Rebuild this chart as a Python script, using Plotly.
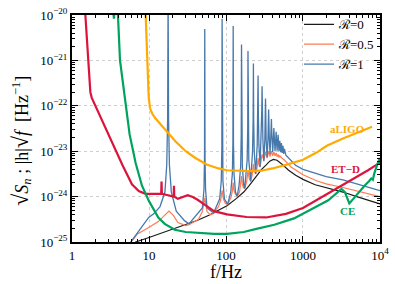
import plotly.graph_objects as go

# ---------------- data (frequencies in Hz, values as log10 of the plotted quantity) -------------
R0_f = [6.0, 6.7, 10, 20, 30, 42.8, 60, 76, 103, 137, 170, 200, 248, 290, 333, 370, 412, 460,
        545, 650, 803, 1000, 1440, 2000, 3300, 5000, 7000, 10000]
R0_e = [-25.08, -25.0, -24.9, -24.72, -24.61, -24.52, -24.41, -24.32, -24.2, -24.04, -23.9, -23.76,
        -23.55, -23.4, -23.3, -23.22, -23.18, -23.2, -23.3, -23.42, -23.53, -23.62, -23.74, -23.8,
        -23.9, -24.0, -24.08, -24.16]

R05_f = [5.0, 7.0, 9.9, 13.2, 15.8, 18.2, 20.8, 23.7, 30, 33,
         44, 49.3, 53, 56.7, 62, 69,
         80, 85.5, 89, 92.5, 98, 105,
         116, 121, 124, 127, 133, 140,
         150, 155, 159, 163, 168, 175,
         186, 193, 200, 209,
         220, 227, 234, 243,
         255, 261, 268, 277,
         294, 310, 326, 342, 358, 373, 389, 404, 419, 433, 448, 461, 475, 487, 500, 530, 570,
         700, 1000, 1500, 2000, 3300, 5000, 7000, 10000]
R05_e = [-25.15, -24.83, -24.68, -24.55, -24.42, -24.32, -24.42, -24.57, -24.64, -24.62,
         -24.5, -24.33, -24.03, -24.33, -24.4, -24.37,
         -24.22, -24.07, -23.86, -24.05, -24.15, -24.18,
         -24.02, -23.88, -23.69, -23.86, -23.95, -23.99,
         -23.9, -23.75, -23.55, -23.72, -23.8, -23.83,
         -23.66, -23.42, -23.6, -23.67,
         -23.5, -23.28, -23.45, -23.5,
         -23.33, -23.15, -23.3, -23.35,
         -23.07, -23.2, -23.02, -23.15, -23.0, -23.12, -23.0, -23.1, -23.02, -23.1, -23.04, -23.12,
         -23.07, -23.14, -23.1, -23.15, -23.19,
         -23.35, -23.52, -23.65, -23.72, -23.8, -23.88, -23.94, -24.0]

R1_f = [5.0, 7.0, 9.9, 11.5, 13.9, 16.1, 17.0, 17.45, 17.7, 17.95, 18.4, 19.5, 22.6, 28.9, 33,
        49.3, 51.7, 52.6, 53, 53.4, 54.3, 56.7, 69,
        82.8, 86.8, 88.3, 89, 89.7, 91.2, 95.2, 105,
        115.3, 120.9, 123, 124, 125, 127.1, 132.7, 140,
        148, 155, 157.7, 159, 160.3, 163, 170, 175,
        188.2, 191.5, 193, 194.5, 197.8, 209,
        221.3, 225.2, 227, 228.8, 232.7, 243,
        254.5, 258.9, 261, 263.1, 267.5, 277,
        286.7, 291.6, 294, 296.4, 301.4, 310,
        319.5, 323.4, 326, 328.6, 332.5, 342,
        351, 355.1, 358, 360.9, 365, 373,
        381, 386, 389, 392, 397, 404,
        412, 416, 419, 422, 426, 433,
        442, 448, 454, 461,
        469, 475, 481, 487,
        495, 500, 505, 512, 525, 537, 550, 562, 574,
        600, 700, 800, 1000, 1500, 2000, 3300, 5000, 7000, 10000]
R1_e = [-25.15, -24.81, -24.46, -24.38, -24.22, -23.9, -23.3, -22.3, -19.5, -22.3, -23.3, -23.9, -24.32, -24.53, -24.6,
        -24.25, -23.85, -23.15, -20.31, -23.15, -23.85, -24.25, -24.36,
        -24.05, -23.65, -22.95, -20.08, -22.95, -23.65, -24.05, -24.17,
        -23.9, -23.5, -22.8, -20.24, -22.8, -23.5, -23.9, -23.99,
        -23.74, -23.34, -22.64, -20.65, -22.64, -23.34, -23.74, -23.82,
        -23.2, -22.5, -20.79, -22.5, -23.2, -23.66,
        -23.0, -22.3, -21.07, -22.3, -23.0, -23.5,
        -22.85, -22.15, -21.33, -22.15, -22.85, -23.35,
        -22.75, -22.1, -21.57, -22.1, -22.75, -23.22,
        -22.75, -22.2, -21.84, -22.2, -22.75, -23.13,
        -22.72, -22.35, -22.08, -22.35, -22.72, -23.06,
        -22.72, -22.5, -22.29, -22.5, -22.72, -23.02,
        -22.75, -22.62, -22.49, -22.62, -22.75, -23.0,
        -22.78, -22.57, -22.78, -22.99,
        -22.8, -22.64, -22.8, -23.0,
        -22.87, -22.77, -22.87, -23.02, -22.82, -23.04, -22.88, -23.06, -22.95,
        -23.09, -23.22, -23.31, -23.40, -23.5, -23.56, -23.63, -23.72, -23.8, -23.87]

LIGO_f = [9.05, 9.5, 9.9, 10.3, 11, 12, 14.4, 17.7, 22, 30, 40, 57, 80, 103, 150, 200, 288, 400,
          600, 1000, 1500, 2040, 3300, 5000, 6600, 7900]
LIGO_e = [-20.0, -21.0, -21.8, -22.05, -22.17, -22.27, -22.42, -22.6, -22.78, -23.0, -23.15, -23.3,
          -23.38, -23.42, -23.44, -23.44, -23.43, -23.38, -23.3, -23.19, -23.03, -22.88, -22.72,
          -22.6, -22.52, -22.46]

ET_f = [1.49, 1.62, 1.73, 1.8, 2.27, 2.8, 3.4, 4.5, 6.0, 7.35, 9.0, 11, 14.4, 14.55, 14.7, 17.7,
        20.9, 21.1, 21.3, 23.7, 27, 31.8, 37, 42.8, 55, 69.9, 103, 185, 332, 600, 1000, 2100,
        3500, 5000, 7000, 10000]
ET_e = [-20.0, -21.0, -21.7, -21.82, -22.2, -22.55, -22.88, -23.3, -23.73, -23.88, -23.94, -23.94,
        -23.94, -23.67, -23.94, -23.97, -24.0, -23.76, -24.0, -24.05, -24.02, -23.97, -24.01,
        -24.07, -24.2, -24.32, -24.39, -24.45, -24.46, -24.38, -24.25, -23.93, -23.72, -23.57,
        -23.42, -23.25]

CE_f = [3.38, 3.5, 3.62, 3.95, 4.2, 5.0, 5.6, 6.7, 8.1, 10, 13.2, 16, 21.6, 30, 42.8, 70, 103,
        170, 248, 424, 764, 1000, 1500, 2130, 2700, 3160, 3500, 4000, 4500, 5400, 6300, 7200,
        7700, 8100, 8400, 9200, 10000]
CE_e = [-19.8, -20.08, -19.8, -20.0, -21.0, -22.0, -22.63, -23.26, -23.76, -24.1, -24.46, -24.6,
        -24.73, -24.78, -24.8, -24.82, -24.82, -24.78, -24.71, -24.62, -24.48, -24.38, -24.22,
        -24.08, -23.93, -23.83, -23.9, -24.15, -24.05, -23.88, -23.76, -23.66, -23.6, -23.63,
        -23.5, -23.3, -23.15]

X_TICKS = [1, 10, 100, 1000, 10000]
X_TICKTEXT = ["1", "10", "100", "1000", "10<sup>4</sup>"]
Y_EXPONENTS = [-25, -24, -23, -22, -21, -20]

# ---------------- figure ----------------
SERIF = "Liberation Serif, Times New Roman, serif"
C_R0, C_R05, C_R1 = "#1a1a1a", "#FF7A52", "#4678AC"
C_LIGO, C_ET, C_CE = "#FFAA00", "#DC143C", "#00A35E"


def vals(e):
    return [10 ** v for v in e]


fig = go.Figure()
fig.add_trace(go.Scatter(x=R0_f, y=vals(R0_e), mode="lines", name="ℛ=0",
                         line=dict(color=C_R0, width=1.2)))
fig.add_trace(go.Scatter(x=R05_f, y=vals(R05_e), mode="lines", name="ℛ=0.5",
                         line=dict(color=C_R05, width=1.2)))
fig.add_trace(go.Scatter(x=R1_f, y=vals(R1_e), mode="lines", name="ℛ=1",
                         line=dict(color=C_R1, width=1.3)))
fig.add_trace(go.Scatter(x=LIGO_f, y=vals(LIGO_e), mode="lines", showlegend=False,
                         line=dict(color=C_LIGO, width=2.2)))
fig.add_trace(go.Scatter(x=ET_f, y=vals(ET_e), mode="lines", showlegend=False,
                         line=dict(color=C_ET, width=2.2)))
fig.add_trace(go.Scatter(x=CE_f, y=vals(CE_e), mode="lines", showlegend=False,
                         line=dict(color=C_CE, width=2.2)))

x_minor = [m * 10 ** k for k in range(4) for m in range(2, 10)]
y_minor = [m * 10.0 ** k for k in range(-25, -20) for m in range(2, 10)]

axis_common = dict(type="log", showline=True, linewidth=2, linecolor="black", mirror="allticks",
                   ticks="inside", ticklen=6, tickwidth=1, tickcolor="black",
                   showgrid=True, gridcolor="#cfcfcf", gridwidth=1, griddash="dot",
                   zeroline=False, ticklabeloverflow="allow",
                   tickfont=dict(family=SERIF, size=13, color="black"))

fig.update_layout(
    width=395, height=284,
    margin=dict(l=72, r=9, t=6, b=42),
    paper_bgcolor="white", plot_bgcolor="white",
    xaxis=dict(range=[-0.0003, 4.0003], tickmode="array", tickvals=X_TICKS, ticktext=X_TICKTEXT,
               minor=dict(tickmode="array", tickvals=x_minor, ticks="inside", ticklen=3,
                          tickcolor="black", showgrid=False),
               **axis_common),
    yaxis=dict(range=[-25.0003, -19.9997], tickmode="array",
               tickvals=[10.0 ** e for e in Y_EXPONENTS],
               ticktext=["10<sup>−%d</sup>" % (-e) for e in Y_EXPONENTS],
               minor=dict(tickmode="array", tickvals=y_minor, ticks="inside", ticklen=3,
                          tickcolor="black", showgrid=False),
               **axis_common),
    legend=dict(x=1, xanchor="right", y=1.025, yanchor="top", bgcolor="rgba(0,0,0,0)",
                font=dict(family=SERIF, size=13, color="black"), tracegroupgap=0,
                itemwidth=30),
    showlegend=True,
)

fig.add_annotation(text="<span style='font-size:22px'>√</span><i>S</i><sub><i>n</i></sub> ; |h|<span style='font-size:22px'>√</span><i>f</i>  [Hz<sup>−1</sup>]",
                   xref="paper", yref="paper", x=-0.165, y=0.447, textangle=-90,
                   showarrow=False, xanchor="center", yanchor="middle",
                   font=dict(family=SERIF, size=18, color="black"))
fig.add_annotation(text="f/Hz", xref="paper", yref="paper", x=0.5, y=-0.13,
                   showarrow=False, xanchor="center", yanchor="middle",
                   font=dict(family=SERIF, size=18, color="black"))

fig.add_annotation(text="<b>aLIGO</b>", x=3.573, y=-22.51, xref="x", yref="y", showarrow=False,
                   font=dict(family=SERIF, size=11, color=C_LIGO))
fig.add_annotation(text="<b>ET−D</b>", x=3.548, y=-23.40, xref="x", yref="y", showarrow=False,
                   font=dict(family=SERIF, size=11, color=C_ET))
fig.add_annotation(text="<b>CE</b>", x=3.573, y=-24.31, xref="x", yref="y", showarrow=False,
                   font=dict(family=SERIF, size=11, color=C_CE))

fig.write_html("out.html", config={"displayModeBar": False},
               post_script="document.body.style.margin='0';")
